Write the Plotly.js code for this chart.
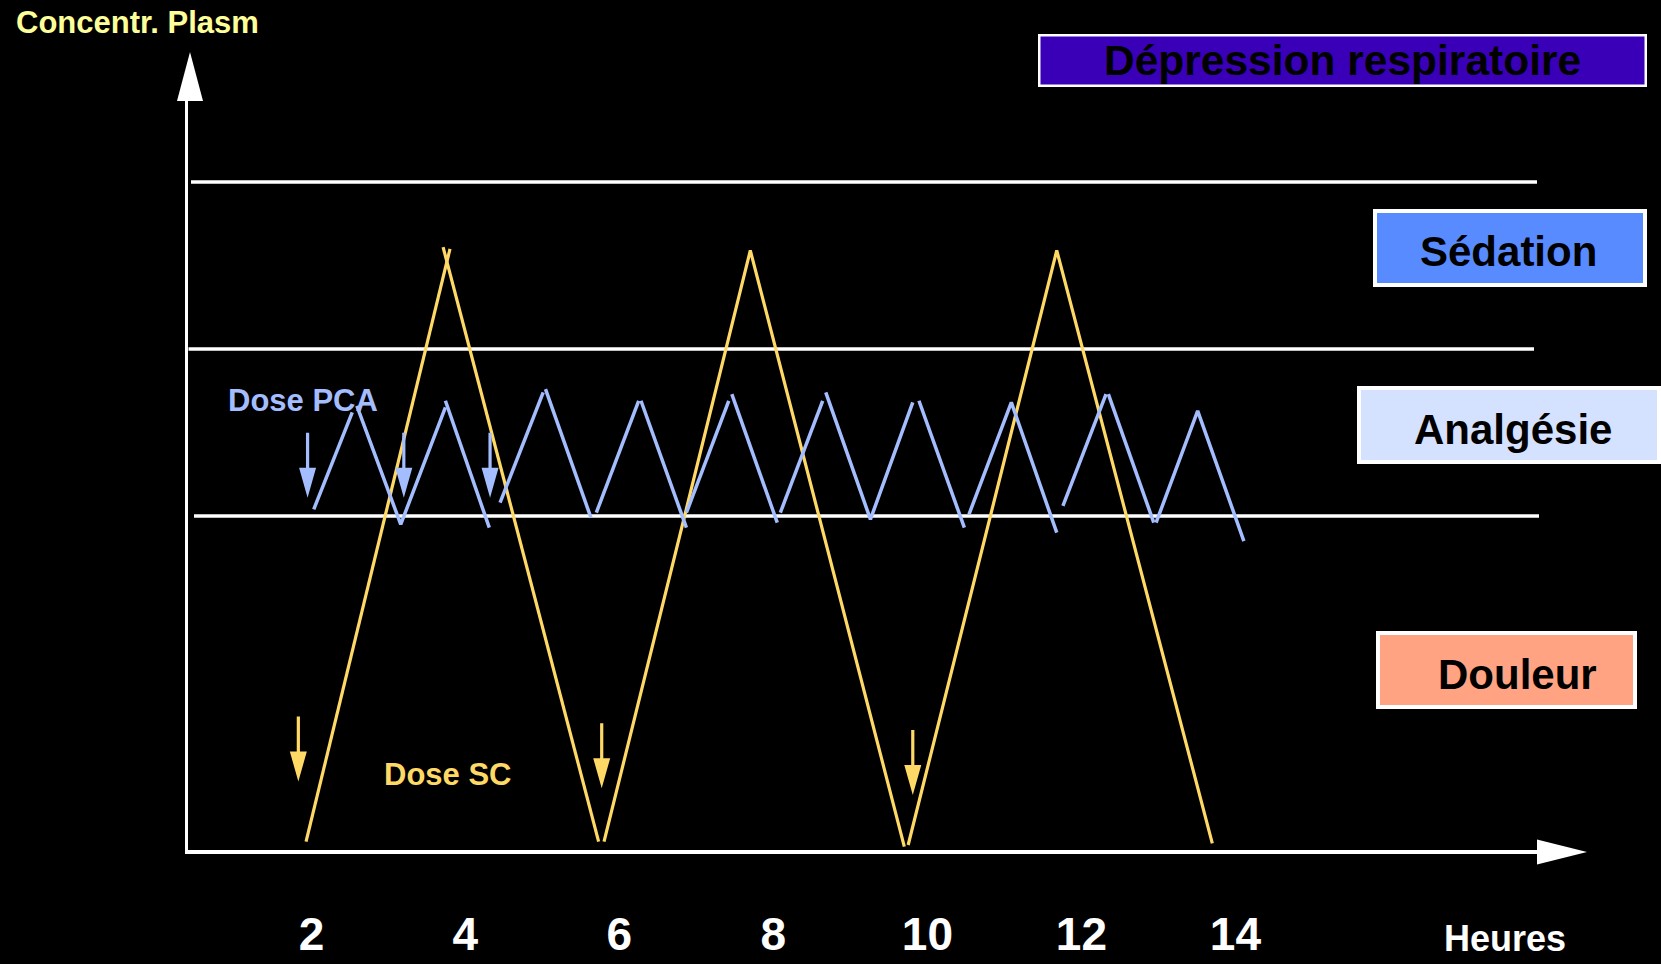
<!DOCTYPE html>
<html><head><meta charset="utf-8">
<script src="https://cdn.plot.ly/plotly-3.0.1.min.js"></script>
<style>html,body{margin:0;padding:0;background:#000;} #chart{width:1661px;height:964px;}</style>
</head><body><div id="chart"></div>
<script>
// ---------- data ----------
const hourTicks = [2, 4, 6, 8, 10, 12, 14];
const hourTickLabels = ['2', '4', '6', '8', '10', '12', '14'];

// Dose SC (subcutaneous) plasma concentration, hand-drawn zigzag
const scHours = [1.93, 3.80, null, 3.71, 5.73, null, 5.80, 7.70, 9.70, null, 9.75, 11.68, 13.70];
const scConc  = [0.05, 3.60, null, 3.61, 0.05, null, 0.05, 3.59, 0.02, null, 0.03, 3.59, 0.04];

// Dose PCA plasma concentration
const pcaHours = [2.03, 2.53, null, 2.59, 3.16, 3.74, null, 3.74, 4.31, null, 4.45, 5.01, null,
                  5.04, 5.63, null, 5.70, 6.25, null, 6.28, 6.87, null, 6.87, 7.42, null,
                  7.46, 8.05, null, 8.09, 8.64, null, 8.68, 9.26, 9.81, null, 9.89, 10.48, null,
                  10.54, 11.09, 11.68, null, 11.76, 12.32, null, 12.35, 12.94, null, 12.97, 13.51, 14.11];
const pcaConc  = [2.04, 2.62, null, 2.66, 1.95, 2.65, null, 2.69, 1.93, null, 2.08, 2.74, null,
                  2.76, 1.99, null, 2.02, 2.69, null, 2.69, 1.93, null, 2.02, 2.69, null,
                  2.73, 1.96, null, 2.02, 2.69, null, 2.74, 1.98, 2.68, null, 2.69, 1.93, null,
                  2.01, 2.68, 1.90, null, 2.06, 2.73, null, 2.73, 1.96, null, 1.96, 2.63, 1.85];

// dose markers (arrow tips)
const scDoseHours  = [1.83, 5.77, 9.81];
const scDoseTip    = [0.41, 0.37, 0.33];
const pcaDoseHours = [1.95, 3.20, 4.32];
const pcaDoseTip   = [2.11, 2.11, 2.11];

// threshold levels between zones
const thresholdLevels = [2, 3, 4];
const zoneLabels = ['Dépression respiratoire', 'Sédation', 'Analgésie', 'Douleur'];

// ---------- layout helpers ----------
const PL = 188, PR = 1538, PT = 100, PB = 850;
const fx = p => (p - PL) / (PR - PL);
const fy = p => (PB - p) / (PB - PT);
const FONT = 'Liberation Sans, Arial, Helvetica, sans-serif';
const YELLOW = '#FFD966', BLUE = '#A3BDFF', PALE = '#FFFF99';

const traces = [
  {x: scHours, y: scConc, type: 'scatter', mode: 'lines', connectgaps: false,
   line: {color: YELLOW, width: 3.2}, hoverinfo: 'skip'},
  {x: pcaHours, y: pcaConc, type: 'scatter', mode: 'lines', connectgaps: false,
   line: {color: BLUE, width: 3.5}, hoverinfo: 'skip'}
];

const shapes = [];
// threshold lines
const thrExtent = {2: [194, 1539], 3: [188.5, 1534], 4: [191, 1537]};
thresholdLevels.forEach(l => {
  shapes.push({type: 'line', xref: 'paper', yref: 'y', x0: fx(thrExtent[l][0]), x1: fx(thrExtent[l][1]),
               y0: l, y1: l, line: {color: '#FFFFFF', width: 3.5}, layer: 'below'});
});
// dose arrows (pixel-sized, anchored at dose time / tip level)
const arrowPath = 'M0,0 L-8.5,30 L-1.6,30 L-1.6,65 L1.6,65 L1.6,30 L8.5,30 Z';
function addArrows(hours, tips, color) {
  hours.forEach((h, i) => shapes.push({type: 'path', xref: 'x', yref: 'y',
    xsizemode: 'pixel', ysizemode: 'pixel', xanchor: h, yanchor: tips[i],
    path: arrowPath, fillcolor: color, line: {width: 0}}));
}
addArrows(scDoseHours, scDoseTip, YELLOW);
addArrows(pcaDoseHours, pcaDoseTip, BLUE);
// axis arrowheads
shapes.push({type: 'path', xref: 'paper', yref: 'paper', xsizemode: 'pixel', ysizemode: 'pixel',
  xanchor: 0, yanchor: 1, path: 'M2,48 L-11,-1 L15,-1 Z', fillcolor: '#FFFFFF', line: {width: 0}});
shapes.push({type: 'path', xref: 'paper', yref: 'paper', xsizemode: 'pixel', ysizemode: 'pixel',
  xanchor: 1, yanchor: 0, path: 'M-1,10.5 L49,-2 L-1,-14.5 Z', fillcolor: '#FFFFFF', line: {width: 0}});

// zone boxes
const boxes = [
  {x0: 1039.25, x1: 1645.75, y0: 35.25, y1: 85.75, fill: '#3A00B8', w: 2.5, tx: 1342, ty: 61, fs: 42.5},
  {x0: 1375, x1: 1645, y0: 211, y1: 285, fill: '#578BFF', w: 4, tx: 1508, ty: 251, fs: 42},
  {x0: 1359, x1: 1659, y0: 388, y1: 462, fill: '#D4E1FF', w: 4, tx: 1513, ty: 429, fs: 42},
  {x0: 1378, x1: 1635, y0: 633, y1: 707, fill: '#FFA382', w: 4, tx: 1517, ty: 674, fs: 42}
];
const annotations = [];
boxes.forEach((b, i) => {
  shapes.push({type: 'rect', xref: 'paper', yref: 'paper', x0: fx(b.x0), x1: fx(b.x1),
    y0: fy(b.y1), y1: fy(b.y0), fillcolor: b.fill, line: {color: '#FFFFFF', width: b.w}});
  annotations.push({xref: 'paper', yref: 'paper', x: fx(b.tx), y: fy(b.ty), xanchor: 'center', yanchor: 'middle',
    text: zoneLabels[i], showarrow: false, font: {family: FONT, size: b.fs, color: '#000000', weight: 'bold'}});
});

annotations.push(
  {xref: 'paper', yref: 'paper', x: fx(14), y: fy(23), xanchor: 'left', yanchor: 'middle', showarrow: false,
   text: 'Concentr. Plasm', font: {family: FONT, size: 31, color: PALE, weight: 'bold'}},
  {xref: 'paper', yref: 'paper', x: fx(303), y: fy(400), xanchor: 'center', yanchor: 'middle', showarrow: false,
   text: 'Dose PCA', font: {family: FONT, size: 31, color: BLUE, weight: 'bold'}},
  {xref: 'paper', yref: 'paper', x: fx(447), y: fy(774), xanchor: 'center', yanchor: 'middle', showarrow: false,
   text: 'Dose SC', font: {family: FONT, size: 31, color: YELLOW, weight: 'bold'}},
  {xref: 'paper', yref: 'paper', x: fx(1505), y: fy(938), xanchor: 'center', yanchor: 'middle', showarrow: false,
   text: 'Heures', font: {family: FONT, size: 36, color: '#FFFFFF', weight: 'bold'}}
);

const layout = {
  width: 1661, height: 964,
  margin: {l: PL, r: 1661 - PR, t: PT, b: 964 - PB, pad: 0},
  paper_bgcolor: '#000000', plot_bgcolor: '#000000',
  showlegend: false,
  xaxis: {range: [0.397, 17.93], tickmode: 'array', tickvals: hourTicks, ticktext: hourTickLabels,
    showline: true, linecolor: '#FFFFFF', linewidth: 3.5, showgrid: false, zeroline: false,
    ticks: '', ticklabelstandoff: 41,
    tickfont: {family: FONT, size: 46, color: '#FFFFFF', weight: 'bold'}, fixedrange: true},
  yaxis: {range: [0, 4.491], showline: true, linecolor: '#FFFFFF', linewidth: 3.5,
    showgrid: false, zeroline: false, showticklabels: false, ticks: '', fixedrange: true},
  shapes: shapes,
  annotations: annotations
};

Plotly.newPlot('chart', traces, layout, {staticPlot: true, displayModeBar: false});
</script>
</body></html>
